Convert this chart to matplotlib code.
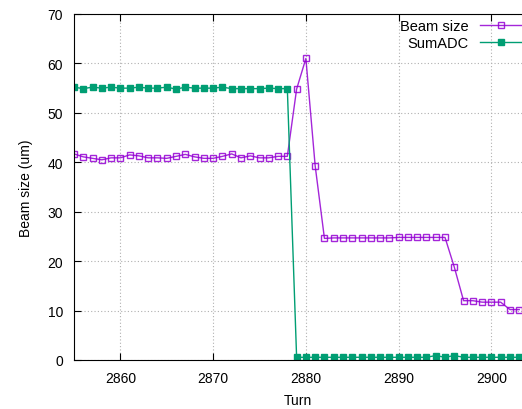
import numpy as np
import matplotlib.pyplot as plt

plt.rcParams['font.family'] = ['Liberation Sans', 'DejaVu Sans']
plt.rcParams['font.size'] = 10

# turn numbers, one sample per turn
turn = np.arange(2855, 2904)

beam_size = [41.7, 41.1, 40.8, 40.5, 40.9, 40.9, 41.5, 41.3, 40.9, 40.9,
             40.8, 41.2, 41.6, 41.1, 40.8, 40.8, 41.2, 41.7, 40.9, 41.3,
             40.9, 40.9, 41.2, 41.2, 54.8, 61.0, 39.3, 24.6, 24.7, 24.7,
             24.7, 24.7, 24.7, 24.7, 24.7, 24.8, 24.8, 24.8, 24.8, 24.8,
             24.8, 18.8, 12.0, 12.0, 11.7, 11.7, 11.7, 10.2, 10.2]

sum_adc = [55.2, 54.9, 55.2, 55.0, 55.2, 55.0, 55.0, 55.2, 55.0, 55.0,
           55.2, 54.8, 55.2, 55.0, 55.0, 55.0, 55.2, 54.9, 54.9, 54.9,
           54.9, 55.0, 54.9, 54.9, 0.55, 0.55, 0.55, 0.55, 0.55, 0.55,
           0.55, 0.55, 0.55, 0.55, 0.55, 0.55, 0.55, 0.55, 0.55, 0.9,
           0.55, 0.9, 0.55, 0.55, 0.55, 0.55, 0.55, 0.55, 0.55]

fig = plt.figure(figsize=(5.22, 4.10), dpi=100)
ax = fig.add_axes([74 / 522, 49 / 410, 1 - 74 / 522, 346 / 410])

ax.plot(turn, beam_size, color='#9400d3', lw=1, marker='s', ms=4.2,
        mfc='none', mec='#9400d3', mew=1, label='Beam size', alpha=0.85)
ax.plot(turn, sum_adc, color='#009e73', lw=1, marker='s', ms=4.6,
        mfc='#009e73', mec='#009e73', label='SumADC')

ax.set_xlim(2855, 2903.3)
ax.set_ylim(0, 70)
ax.set_xticks([2860, 2870, 2880, 2890, 2900])
ax.set_yticks(range(0, 71, 10))
ax.grid(True, color='#b0b0b0', ls=(0, (1, 2)), lw=0.8)
ax.tick_params(direction='in', top=True, right=False, length=5, pad=8)
ax.spines['right'].set_visible(False)

ax.set_xlabel('Turn', labelpad=6)
ax.set_ylabel('Beam size (um)', labelpad=10)

ax.legend(loc='upper right', bbox_to_anchor=(1.024, 1.014), frameon=False,
          markerfirst=False, handlelength=2.9, handletextpad=0.8,
          labelspacing=0.2, borderaxespad=0.3, fontsize=10.5)

fig.savefig('out.png', dpi=100)
